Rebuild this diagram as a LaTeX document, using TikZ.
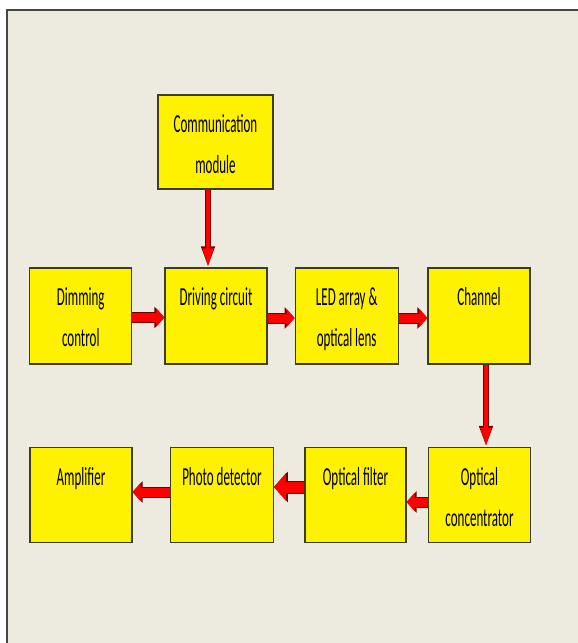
\documentclass[tikz,border=0pt]{standalone}
\usepackage{fontspec}
\newfontfamily\boxfont[FakeStretch=0.5]{Carlito}
\usepackage{tikz}
\usetikzlibrary{arrows.meta,positioning}
\definecolor{pagebg}{RGB}{237,234,224}
\definecolor{framegray}{RGB}{70,70,70}
\definecolor{boxline}{RGB}{60,60,40}
\definecolor{arrowline}{RGB}{110,0,0}

\begin{document}
\begin{tikzpicture}[
    x=1pt, y=-1pt,
    font=\boxfont\fontsize{26}{41}\selectfont,
    block/.style={
		rectangle,
		draw=boxline,
		line width=1.2pt,
		fill=yellow,
		inner sep=0pt,
		align=center,
		minimum width=102pt,
		text height=37.5pt,
		text depth=58.5pt
	},
	twoline/.style={
		text height=78.5pt,
		text depth=17.5pt
	},
    thinarrow/.style={
		draw=red,
		line width=4.5pt,
		-{Triangle[length=19pt,width=10pt]},
		preaction={draw=arrowline, line width=6pt, -{Triangle[length=21pt,width=12.5pt]}}
	},
    bigarrow/.style={
		draw=red,
		line width=9pt,
		-{Triangle[length=8pt,width=18pt]},
		preaction={draw=arrowline, line width=11pt, -{Triangle[length=10pt,width=21pt]}}
	},
    widearrow/.style={
		draw=red,
		line width=11pt,
		-{Triangle[length=12pt,width=27pt]},
		preaction={draw=arrowline, line width=13pt, -{Triangle[length=14pt,width=30pt]}}
	}
  ]
  \useasboundingbox (0,0) rectangle (578,643);
  \fill [pagebg] (7,10) rectangle (578,643);
  \draw [framegray, line width=1.5pt] (7,643) -- (7,10) -- (578,10);

    % We start by placing the blocks
  \node [block, twoline, minimum width=115pt, text depth=15.5pt] (comm) at (215.5,142) {Communication\\module};

  \node [block, twoline] (dim) at (80.75,316) {Dimming\\control};
  \node [block] (drv) at (216,316) {Driving circuit};
  \node [block, twoline, minimum width=103pt] (led) at (346.7,316) {LED array \&\\optical lens};
  \node [block] (chan) at (479,316) {Channel};

  \node [block, twoline, text depth=16.5pt] (conc) at (479.5,495) {Optical\\concentrator};
  \node [block, minimum width=101pt, text depth=57.5pt] (filt) at (355.5,495) {Optical filter};
  \node [block, minimum width=102.6pt, text depth=57.5pt] (photo) at (222,495) {Photo detector};
  \node [block, text depth=57.5pt] (amp) at (81,495) {Amplifier};

  \draw [thinarrow] ([xshift=-7.5pt]comm.south) -- ([xshift=-8pt]drv.north);
  \draw [bigarrow] ([yshift=-1.5pt]dim.east) -- ([yshift=-1.5pt]drv.west);
  \draw [bigarrow] ([yshift=-2pt]drv.east) -- ([yshift=-2pt]led.west);
  \draw [bigarrow] ([yshift=-2pt]led.east) -- ([yshift=-2pt]chan.west);
  \draw [thinarrow] ([xshift=7pt]chan.south) -- ([xshift=6.5pt]conc.north);
  \draw [bigarrow] ([yshift=-7pt]conc.west) -- ([yshift=-7pt]filt.east);
  \draw [widearrow] ([yshift=8pt]filt.west) -- ([yshift=8pt]photo.east);
  \draw [bigarrow] ([yshift=3pt]photo.west) -- ([yshift=3pt]amp.east);

\end{tikzpicture}
\end{document}
